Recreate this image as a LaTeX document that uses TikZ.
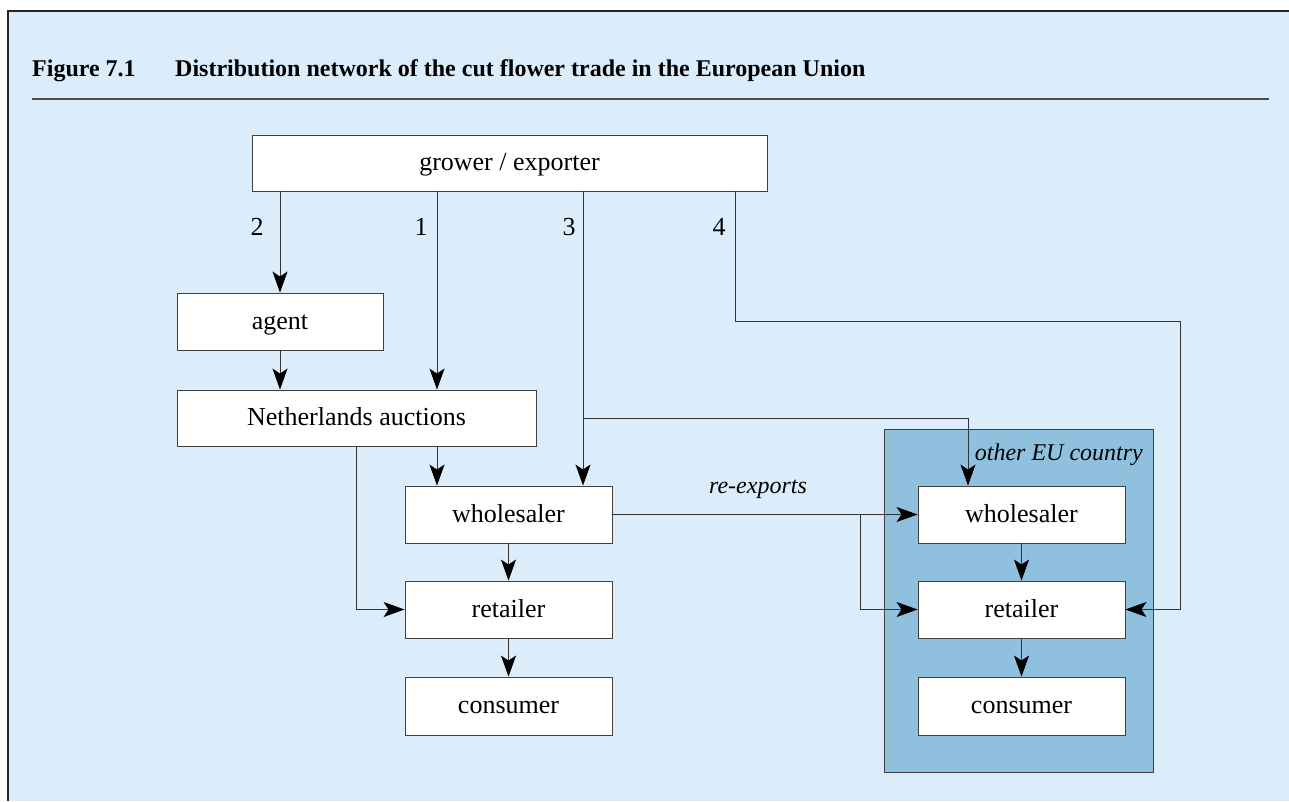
\documentclass[tikz,border=0pt]{standalone}
\usepackage{fontspec}
\setmainfont{Liberation Serif}
\usetikzlibrary{arrows.meta}
\definecolor{bg}{RGB}{219,237,251}
\definecolor{eu}{RGB}{143,192,221}
\begin{document}
\begin{tikzpicture}[x=1pt,y=-1pt,
 box/.style={draw=black!75,fill=white,line width=0.9pt,minimum height=57pt,inner sep=0pt,text height=19pt,text depth=4pt,font=\fontsize{26}{30}\selectfont},
 conn/.style={line width=0.9pt,draw=black!80},
 arr/.style={conn,-{Stealth[length=21pt,width=15pt,inset=5pt,color=black]}},
 lbl/.style={font=\fontsize{26}{30}\selectfont,inner sep=0pt},
 ital/.style={font=\fontsize{24}{28}\selectfont\itshape,inner sep=0pt},
 head/.style={font=\fontsize{24}{28}\selectfont\bfseries,inner sep=0pt,anchor=base west}]
\useasboundingbox (0,0) rectangle (1289,801);
\fill[white] (0,0) rectangle (1289,801);
\fill[bg] (8,11) rectangle (1289,801);
\draw[line width=1.5pt,black!85] (8,801) -- (8,11) -- (1289,11);
\node[head] (fig) at (32,76) {Figure 7.1};
\node[head] (title) at (175,76) {Distribution network of the cut flower trade in the European Union};
\draw[line width=1.2pt,black!70] (32,99) -- (1269,99);
% EU region
\draw[fill=eu,draw=black!75,line width=0.9pt] (884,429) rectangle (1153,772);
\node[ital,anchor=base east] (eulbl) at (1143,460) {other EU country};
% boxes
\node[box,minimum width=515pt,minimum height=56pt] (grower) at (509.5,163) {grower / exporter};
\node[box,minimum width=206pt] (agent) at (280,321.5) {agent};
\node[box,minimum width=359pt,minimum height=56pt] (auct) at (356.5,418) {Netherlands auctions};
\node[box,minimum width=207pt] (whL) at (508.5,514.5) {wholesaler};
\node[box,minimum width=207pt] (rtL) at (508.5,609.5) {retailer};
\node[box,minimum width=207pt,minimum height=58pt] (coL) at (508.5,706) {consumer};
\node[box,minimum width=207pt] (whR) at (1021.5,514.5) {wholesaler};
\node[box,minimum width=207pt] (rtR) at (1021.5,609.5) {retailer};
\node[box,minimum width=207pt,minimum height=58pt] (coR) at (1021.5,706) {consumer};
% coordinates
\coordinate (a1) at (437,418);
\coordinate (a3) at (583,418);
\coordinate (b3) at (968,418);
\coordinate (a4) at (735,321);
\coordinate (b4) at (1180,321);
\coordinate (a5) at (356,609.5);
\coordinate (a6) at (860,514.5);
% connectors
\draw[arr] (grower.south -| agent.north) -- (agent.north);
\draw[arr] (grower.south -| a1) -- (auct.north -| a1);
\draw[arr] (agent.south) -- (auct.north -| agent.south);
\draw[arr] (auct.south -| a1) -- (whL.north -| a1);
\draw[arr] (grower.south -| a3) -- (whL.north -| a3);
\draw[arr] (a3) -- (b3) -- (whR.north -| b3);
\draw[arr] (grower.south -| a4) -- (a4) -- (b4) -- (b4 |- rtR.east) -- (rtR.east);
\draw[arr] (auct.south -| a5) -- (a5) -- (rtL.west);
\draw[arr] (whL.east) -- (whR.west);
\draw[arr] (a6) -- (a6 |- rtR.west) -- (rtR.west);
\draw[arr] (whL.south) -- (rtL.north);
\draw[arr] (rtL.south) -- (coL.north);
\draw[arr] (whR.south) -- (rtR.north);
\draw[arr] (rtR.south) -- (coR.north);
% labels
\node[lbl,anchor=base] (n2) at (257,235) {2};
\node[lbl,anchor=base] (n1) at (421,235) {1};
\node[lbl,anchor=base] (n3) at (569,235) {3};
\node[lbl,anchor=base] (n4) at (719,235) {4};
\node[ital,anchor=base] (rex) at (758,493) {re-exports};
\end{tikzpicture}
\end{document}
